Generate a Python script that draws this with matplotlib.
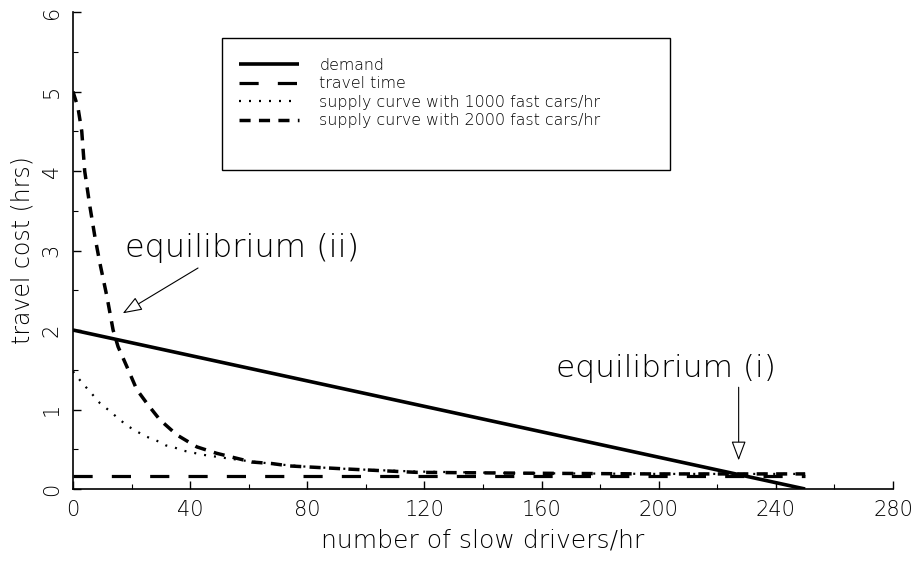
import matplotlib
matplotlib.use('Agg')
import matplotlib.pyplot as plt
from matplotlib.patches import Rectangle
import numpy as np

plt.rcParams['font.family'] = ['DejaVu Sans']
plt.rcParams['font.weight'] = 200
plt.rcParams['axes.labelweight'] = 200

# demand line
demand_x = [0, 250]
demand_y = [2.0, 0.0]

# travel time (flat)
travel_x = [0, 250]
travel_y = [0.17, 0.17]

# supply curve with 1000 fast cars/hr
s1000_x = [0, 1, 3.5, 6.4, 9.2, 12.6, 15.7, 18.8, 22, 25, 28.5, 31.6, 34.8, 38, 44.5,
           52, 60, 70, 80, 95, 117, 150, 200, 250]
s1000_y = [1.48, 1.43, 1.32, 1.20, 1.08, 0.98, 0.88, 0.79, 0.72, 0.66, 0.61, 0.55, 0.52, 0.48, 0.43,
           0.39, 0.35, 0.31, 0.28, 0.25, 0.22, 0.20, 0.19, 0.19]

# supply curve with 2000 fast cars/hr
s2000_x = [0, 1.7, 3, 4, 5.8, 7.5, 9.2, 11.6, 13.7, 15.4, 18.4, 21.8, 25.6, 29.7, 35.5,
           42.3, 49, 61, 68, 74, 94.5, 117, 151, 197, 250]
s2000_y = [5.0, 4.8, 4.5, 4.0, 3.55, 3.17, 2.84, 2.42, 2.0, 1.79, 1.54, 1.25, 1.06, 0.87, 0.68,
           0.53, 0.45, 0.34, 0.32, 0.29, 0.25, 0.21, 0.20, 0.19, 0.19]

fig = plt.figure(figsize=(9.19, 5.61), dpi=100)
ax = fig.add_axes([0.0794, 0.1283, 0.8923, 0.8503])

ax.plot(demand_x, demand_y, color='black', lw=2.6, solid_capstyle='butt', label='demand')
ax.plot(travel_x, travel_y, color='black', lw=2.3, dashes=(6.0, 6.0), label='travel time')
ax.plot(s1000_x, s1000_y, color='black', lw=1.6, dashes=(0.9, 3.6), label='supply curve with 1000 fast cars/hr')
ax.plot(s2000_x, s2000_y, color='black', lw=2.5, dashes=(3.2, 2.4), label='supply curve with 2000 fast cars/hr')

ax.set_xlim(0, 280)
ax.set_ylim(0, 6)
ax.set_xticks(np.arange(0, 281, 40))
ax.set_xticks(np.arange(0, 281, 20), minor=True)
ax.set_yticks(np.arange(0, 7, 1))
ax.set_yticks(np.arange(0, 6.1, 0.5), minor=True)
ax.tick_params(which='major', direction='in', length=6, width=1, labelsize=15, pad=8)
ax.tick_params(which='minor', direction='in', length=3.5, width=0.8)
for lab in ax.get_yticklabels():
    lab.set_rotation(90)
    lab.set_va('center')
ax.spines['top'].set_visible(False)
ax.spines['right'].set_visible(False)
ax.spines['left'].set_linewidth(1.2)
ax.spines['bottom'].set_linewidth(1.2)
ax.patch.set_visible(False)

ax.set_xlabel('number of slow drivers/hr', fontsize=18, labelpad=6)
ax.set_ylabel('travel cost (hrs)', fontsize=17, labelpad=5)

# legend box drawn separately (the frame is taller than the entries)
ax.add_patch(Rectangle((0.182, 0.669), 0.546, 0.276, transform=ax.transAxes,
                       fill=False, edgecolor='black', lw=1.0, zorder=3))
leg = ax.legend(loc='upper left', bbox_to_anchor=(0.202, 0.904),
                fontsize=11.4, frameon=False, handlelength=3.8, handletextpad=1.3,
                borderpad=0, labelspacing=0.22, borderaxespad=0)

arrow = dict(arrowstyle='-|>,head_length=1.2,head_width=0.45', ec='black', fc='white', lw=0.8,
             shrinkA=0, shrinkB=0)
ax.annotate('', xy=(17, 2.21), xytext=(42.7, 2.78), arrowprops=arrow)
ax.text(17.7, 3.03, 'equilibrium (ii)', fontsize=23, va='center', ha='left')
ax.annotate('', xy=(227.3, 0.36), xytext=(227.3, 1.28), arrowprops=arrow)
ax.text(165, 1.52, 'equilibrium (i)', fontsize=22.5, va='center', ha='left')

fig.savefig('out.png', dpi=100)
